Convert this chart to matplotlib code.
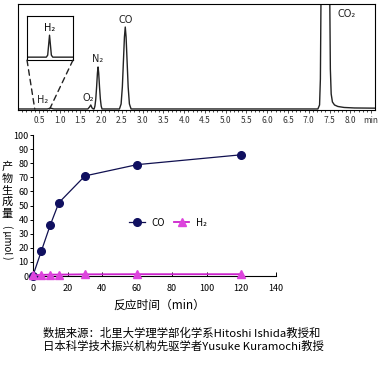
import matplotlib
matplotlib.use("Agg")
import matplotlib.pyplot as plt
from matplotlib.patches import ConnectionPatch

plt.rcParams['font.family'] = ['Noto Sans CJK SC', 'DejaVu Sans']

# chromatogram trace (time in min, signal in arbitrary units)
trace_t = [0.00, 0.70, 0.74, 0.78, 0.82, 0.86,
           1.68, 1.72, 1.75, 1.78, 1.81,
           1.84, 1.86, 1.88, 1.90, 1.92, 1.94, 1.96, 1.98, 2.00, 2.02,
           2.44, 2.48, 2.51, 2.54, 2.56, 2.58, 2.60, 2.62, 2.65, 2.68, 2.72,
           7.22, 7.26, 7.28, 7.30, 7.50, 7.52, 7.54, 7.57, 7.62, 7.70, 7.85, 8.10, 8.60]
trace_y = [0.0, 0.0, 0.4, 0.9, 0.4, 0.0,
           0.0, 2.0, 4.0, 1.0, 0.0,
           0.0, 3.0, 10.0, 22.0, 36.0, 42.0, 36.0, 22.0, 10.0, 3.0, 0.0,
           0.0, 5.0, 22.0, 52.0, 72.0, 82.0, 72.0, 52.0, 22.0, 5.0, 0.0,
           0.0, 4.0, 30.0, 140.0, 140.0, 40.0, 15.0, 7.0, 4.0, 2.5, 1.5, 1.0, 0.8]
trace_t = trace_t[:11] + [1.83, 1.85, 1.87, 1.89, 1.91, 1.925, 1.94, 1.96, 1.98, 2.00, 2.02] + trace_t[21:]
trace_y = trace_y[:11] + [0.0, 3.0, 10.0, 22.0, 36.0, 42.0, 36.0, 22.0, 10.0, 3.0, 0.0] + trace_y[22:]

# zoomed view of the H2 peak
inset_t = [0.00, 0.42, 0.45, 0.47, 0.49, 0.51, 0.53, 0.56, 1.00]
inset_y = [0.0, 0.0, 2.0, 12.0, 22.0, 12.0, 2.0, 0.0, 0.0]

chrom_ticks = [0.5, 1.0, 1.5, 2.0, 2.5, 3.0, 3.5, 4.0, 4.5, 5.0, 5.5, 6.0, 6.5, 7.0, 7.5, 8.0, 8.5]
chrom_tick_labels = ['0.5', '1.0', '1.5', '2.0', '2.5', '3.0', '3.5', '4.0', '4.5', '5.0',
                     '5.5', '6.0', '6.5', '7.0', '7.5', '8.0', 'min']

# peak labels: (text, time, height)
peak_labels = [('H₂', 0.60, 3.5), ('O₂', 1.68, 6.0), ('N₂', 1.92, 45.0),
               ('CO', 2.60, 84.5), ('CO₂', 7.90, 90.0)]

# product yield over reaction time
time_min = [0, 5, 10, 15, 30, 60, 120]
co_umol = [0, 18, 36, 52, 71, 79, 86]
h2_umol = [0.5, 0.8, 1.0, 1.0, 1.2, 1.3, 1.3]

fig = plt.figure(figsize=(3.86, 3.69), dpi=100)

# ---- chromatogram ----
ax1 = fig.add_axes([0.047, 0.702, 0.925, 0.287])
ax1.plot(trace_t, trace_y, color='#222222', lw=1.0)
ax1.set_xlim(0, 8.6)
ax1.set_ylim(-1, 105)
ax1.set_yticks([])
ax1.set_xticks(chrom_ticks)
ax1.set_xticklabels(chrom_tick_labels)
ax1.set_xticks([i / 10 for i in range(1, 86)], minor=True)
ax1.tick_params(axis='x', which='major', length=2.5, width=0.6, labelsize=6,
                pad=1.5, colors='#333333')
ax1.tick_params(axis='x', which='minor', length=1.5, width=0.5)
for s in ax1.spines.values():
    s.set_linewidth(0.8)
for txt, t, h in peak_labels:
    ax1.text(t, h, txt, fontsize=7, ha='center', va='bottom', color='#222222',
             family=['DejaVu Sans'])

axin = fig.add_axes([0.070, 0.837, 0.119, 0.119])
axin.plot(inset_t, inset_y, color='#222222', lw=1.0)
axin.set_xlim(0, 1)
axin.set_ylim(-3, 41)
axin.set_xticks([])
axin.set_yticks([])
axin.set_facecolor('white')
for s in axin.spines.values():
    s.set_linewidth(0.8)
axin.text(0.49, 24, 'H₂', fontsize=7, ha='center', va='bottom', family=['DejaVu Sans'])

for xa, xb in [(0, 0.40), (1, 0.76)]:
    con = ConnectionPatch(xyA=(xa, 0), coordsA=axin.transAxes,
                          xyB=(xb, 0), coordsB=ax1.transData,
                          ls=(0, (4, 3)), lw=1.0, color='#222222')
    fig.add_artist(con)

# ---- yield plot ----
ax2 = fig.add_axes([0.085, 0.252, 0.630, 0.382])
ax2.plot(time_min, co_umol, color='#101050', lw=0.9, marker='o', ms=5.5,
         markerfacecolor='#101060', markeredgecolor='#101060', label='CO',
         clip_on=False, zorder=3)
ax2.plot(time_min, h2_umol, color='#cc22cc', lw=1.3, marker='^', ms=6,
         markerfacecolor='#dd44dd', markeredgecolor='#dd44dd', label='H₂',
         clip_on=False, zorder=4)
ax2.set_xlim(0, 140)
ax2.set_ylim(0, 100)
ax2.set_xticks(range(0, 141, 20))
ax2.set_yticks(range(0, 101, 10))
ax2.spines['top'].set_visible(False)
ax2.spines['right'].set_visible(False)
ax2.tick_params(axis='x', direction='in', length=3, width=0.7, labelsize=6.5, pad=6)
ax2.tick_params(axis='y', direction='out', length=2, width=0.7, labelsize=6.5, pad=1)
ax2.legend(loc='center left', bbox_to_anchor=(0.322, 0.396), bbox_transform=fig.transFigure,
           ncol=2, frameon=False, fontsize=7, handlelength=1.6, handletextpad=0.7,
           columnspacing=0.9, borderpad=0)

fig.text(0.412, 1 - 305 / 369, '反应时间（min）', fontsize=8.5, ha='center', va='center')

# vertical y label: upright characters, then the unit rotated
ylabel_chars = '产物生成量'
for i, ch in enumerate(ylabel_chars):
    fig.text(0.019, 1 - (167 + i * 11.7) / 369, ch, fontsize=8, ha='center', va='center')
fig.text(0.019, 1 - 242 / 369, '( μmol )', fontsize=7, ha='center', va='center',
         rotation=-90)

fig.text(0.111, 1 - 333 / 369, '数据来源：北里大学理学部化学系Hitoshi Ishida教授和',
         fontsize=8.2, ha='left', va='center')
fig.text(0.111, 1 - 346 / 369, '日本科学技术振兴机构先驱学者Yusuke Kuramochi教授',
         fontsize=8.2, ha='left', va='center')

fig.savefig('out.png', dpi=100)
